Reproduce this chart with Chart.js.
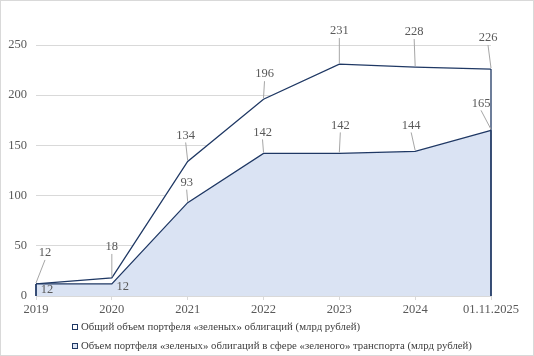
<!DOCTYPE html>
<html>
<head>
<meta charset="utf-8">
<script src="https://cdn.jsdelivr.net/npm/chart.js@4"></script>
<style>
html,body{margin:0;padding:0;background:#fff;}
canvas{display:block;}
</style>
</head>
<body>
<canvas id="c" width="534" height="356"></canvas>
<script>
const categories = ['2019', '2020', '2021', '2022', '2023', '2024', '01.11.2025'];
const totalValues = [12, 18, 134, 196, 231, 228, 226];
const transportValues = [12, 12, 93, 142, 142, 144, 165];
const seriesNames = [
  'Общий объем портфеля «зеленых» облигаций (млрд рублей)',
  'Объем портфеля «зеленых» облигаций в сфере «зеленого» транспорта (млрд рублей)'
];
const yTicks = [0, 50, 100, 150, 200, 250];

// label placement (offset of label centre from its point, px) and whether a leader line is drawn
const totalLabelOffsets = [[9,-31,1],[0,-31,1],[-2,-26,1],[1,-25,1],[0,-33,1],[-1,-35,1],[-3,-31,1]];
const transportLabelOffsets = [[11,6,0],[11,3,0],[-1,-20,1],[-1,-21,1],[1,-28,1],[-4,-26,1],[-10,-27,1]];

const NAVY = '#1F3864';
const FONT = '"Liberation Serif", "Times New Roman", serif';
const TEXT = '#595959';

const extras = {
  id: 'extras',
  beforeDraw(chart) {
    const ctx = chart.ctx;
    ctx.save();
    ctx.fillStyle = '#fff';
    ctx.fillRect(0, 0, chart.width, chart.height);
    ctx.restore();
  },
  afterDatasetsDraw(chart) {
    const ctx = chart.ctx;
    const yBase = chart.scales.y.getPixelForValue(0);
    ctx.save();
    ctx.strokeStyle = NAVY;
    ctx.lineWidth = 1.3;
    chart.data.datasets.forEach((ds, i) => {
      const pts = chart.getDatasetMeta(i).data;
      [pts[0], pts[pts.length - 1]].forEach(p => {
        ctx.beginPath();
        ctx.moveTo(p.x, p.y);
        ctx.lineTo(p.x, yBase);
        ctx.stroke();
      });
    });
    const offsets = [totalLabelOffsets, transportLabelOffsets];
    ctx.font = '12.5px ' + FONT;
    ctx.textAlign = 'center';
    ctx.textBaseline = 'middle';
    chart.data.datasets.forEach((ds, i) => {
      const pts = chart.getDatasetMeta(i).data;
      pts.forEach((p, j) => {
        const o = offsets[i][j];
        const lx = p.x + o[0], ly = p.y + o[1];
        if (o[2]) {
          ctx.strokeStyle = '#A6A6A6';
          ctx.lineWidth = 1;
          ctx.beginPath();
          ctx.moveTo(lx, ly + 7);
          ctx.lineTo(p.x, p.y - 1);
          ctx.stroke();
        }
        ctx.fillStyle = TEXT;
        ctx.fillText(String(ds.data[j]), lx, ly);
      });
    });
    ctx.restore();
  },
  afterDraw(chart) {
    const ctx = chart.ctx;
    ctx.save();
    const fills = ['#FFFFFF', '#DAE3F3'];
    const rowsY = [327, 346];
    ctx.font = '10.8px ' + FONT;
    ctx.textAlign = 'left';
    ctx.textBaseline = 'middle';
    chart.data.datasets.forEach((ds, i) => {
      const y = rowsY[i];
      ctx.fillStyle = fills[i];
      ctx.fillRect(72.5, y - 2.5, 5, 5);
      ctx.strokeStyle = NAVY;
      ctx.lineWidth = 1;
      ctx.strokeRect(72.5, y - 2.5, 5, 5);
      ctx.fillStyle = '#404040';
      ctx.fillText(ds.label, 81, y);
    });
    ctx.strokeStyle = '#D9D9D9';
    ctx.lineWidth = 1;
    ctx.strokeRect(0.5, 0.5, chart.width - 1, chart.height - 1);
    ctx.restore();
  }
};

new Chart(document.getElementById('c'), {
  type: 'line',
  data: {
    labels: categories,
    datasets: [
      {
        label: seriesNames[0],
        data: totalValues,
        borderColor: NAVY,
        borderWidth: 1.3,
        backgroundColor: '#FFFFFF',
        fill: 'origin',
        pointRadius: 0,
        tension: 0,
        order: 1
      },
      {
        label: seriesNames[1],
        data: transportValues,
        borderColor: NAVY,
        borderWidth: 1.3,
        backgroundColor: '#DAE3F3',
        fill: 'origin',
        pointRadius: 0,
        tension: 0,
        order: 0
      }
    ]
  },
  options: {
    responsive: false,
    animation: false,
    devicePixelRatio: 1,
    layout: { padding: { left: 0, right: 43, top: 45, bottom: 38 } },
    plugins: {
      legend: { display: false },
      tooltip: { enabled: false }
    },
    scales: {
      x: {
        offset: false,
        grid: { display: true, drawOnChartArea: false, drawTicks: true, tickLength: 4, color: '#D9D9D9' },
        border: { display: true, color: '#D9D9D9' },
        ticks: { color: TEXT, font: { family: FONT, size: 12.5 }, padding: 2, maxRotation: 0, autoSkip: false },
        afterFit(s) { s.height = 22; }
      },
      y: {
        min: yTicks[0],
        max: yTicks[yTicks.length - 1],
        afterBuildTicks(s) { s.ticks = yTicks.map(v => ({ value: v })); },
        grid: { color: '#D9D9D9', drawTicks: false },
        border: { display: false },
        ticks: { color: TEXT, font: { family: FONT, size: 12.5 }, padding: 9 },
        afterFit(s) { s.width = 36; }
      }
    }
  },
  plugins: [extras]
});
</script>
</body>
</html>
